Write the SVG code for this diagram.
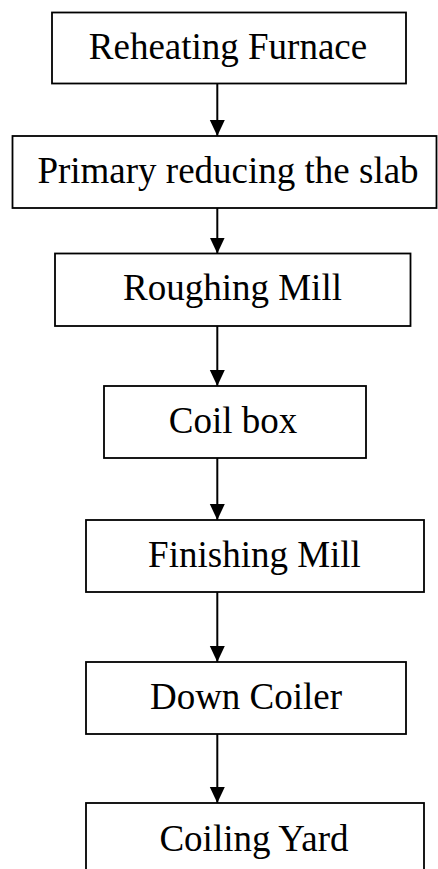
<svg xmlns="http://www.w3.org/2000/svg" width="438" height="869" viewBox="0 0 438 869">
<style>
.box{fill:#fff;stroke:#000;stroke-width:1.8}
.lbl{font-family:"Liberation Serif","Times New Roman",serif;font-size:37px;fill:#000;text-anchor:middle}
.conn line{stroke:#000;stroke-width:2}
</style>
<defs>
<marker id="ah" markerUnits="userSpaceOnUse" markerWidth="16" markerHeight="16" refX="16" refY="8" orient="auto">
<path d="M0,0.5 L16,8 L0,15.5 Z" fill="#000"/>
</marker>
</defs>
<rect width="438" height="869" fill="#fff"/>
<g id="connectors" class="conn">
<line x1="217.3" y1="83" x2="217.3" y2="136" marker-end="url(#ah)"/>
<line x1="217.3" y1="208" x2="217.3" y2="253.5" marker-end="url(#ah)"/>
<line x1="217.3" y1="326" x2="217.3" y2="386" marker-end="url(#ah)"/>
<line x1="217.3" y1="458" x2="217.3" y2="520" marker-end="url(#ah)"/>
<line x1="217.3" y1="592" x2="217.3" y2="662" marker-end="url(#ah)"/>
<line x1="217.3" y1="734" x2="217.3" y2="803" marker-end="url(#ah)"/>
</g>
<g id="reheating-furnace"><rect class="box" x="52" y="12.5" width="354" height="71"/><text class="lbl" x="228" y="59">Reheating Furnace</text></g>
<g id="primary-reducing"><rect class="box" x="12.5" y="136" width="424" height="72"/><text class="lbl" x="228" y="183">Primary reducing the slab</text></g>
<g id="roughing-mill"><rect class="box" x="55" y="253.5" width="355.5" height="72.5"/><text class="lbl" x="232.5" y="300">Roughing Mill</text></g>
<g id="coil-box"><rect class="box" x="104" y="386" width="262" height="72"/><text class="lbl" x="233" y="433">Coil box</text></g>
<g id="finishing-mill"><rect class="box" x="86" y="520" width="338" height="72"/><text class="lbl" x="254.5" y="567">Finishing Mill</text></g>
<g id="down-coiler"><rect class="box" x="86" y="662" width="320" height="72"/><text class="lbl" x="246" y="709">Down Coiler</text></g>
<g id="coiling-yard"><rect class="box" x="86" y="803" width="338" height="80"/><text class="lbl" x="254" y="851">Coiling Yard</text></g>
</svg>
